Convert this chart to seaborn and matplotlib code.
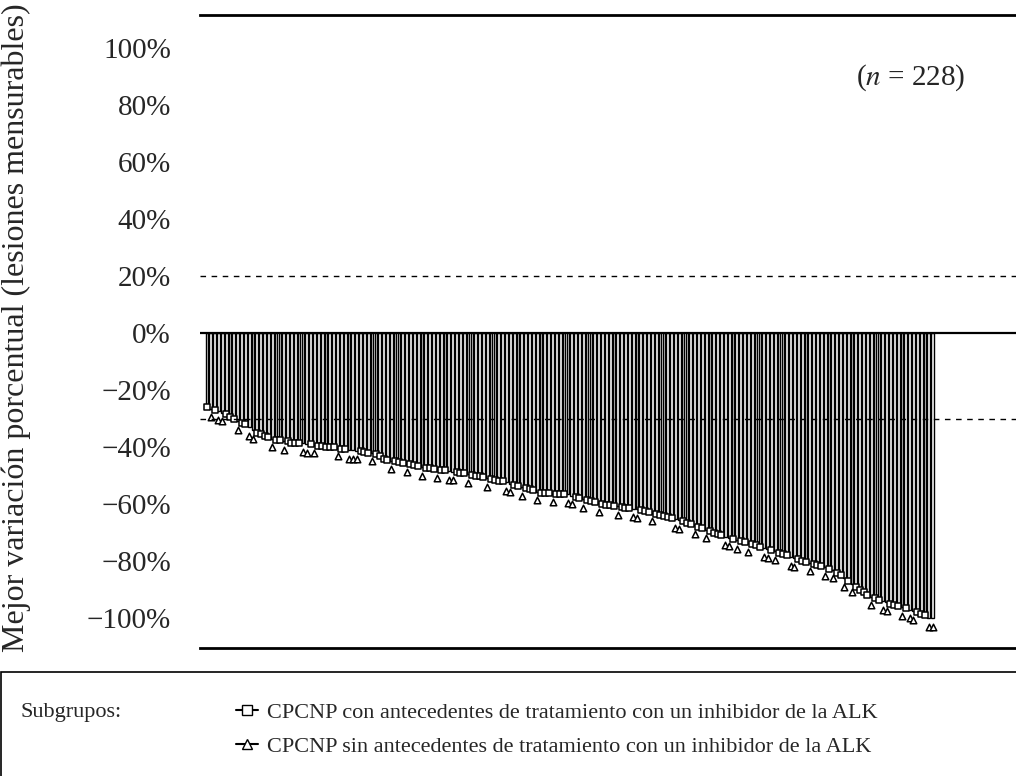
import pandas as pd
import matplotlib.pyplot as plt
import seaborn as sns
from matplotlib.lines import Line2D
from matplotlib.patches import Rectangle

sns.set_theme(style='white')
plt.rcParams['font.family'] = ['Liberation Serif', 'DejaVu Serif']
plt.rcParams['mathtext.fontset'] = 'stix'

# best % change per patient, sorted
best_change = [
    -26, -26.5, -27, -27.5, -28, -28.5, -29.5, -30, -31, -31.5,
    -32, -33, -34, -35, -35.5, -36, -36.5, -37, -37.5, -37.5,
    -38, -38, -38.5, -38.5, -38.5, -38.6, -39, -39, -39.2, -39.5,
    -39.5, -39.8, -40, -40, -40.2, -40.5, -40.8, -41, -41, -41.3,
    -41.5, -41.7, -42, -42, -42.5, -43, -44, -44.5, -44.8, -45,
    -45.2, -45.5, -45.8, -46, -46.3, -46.5, -47, -47.2, -47.4, -47.6,
    -47.8, -48, -48.2, -48.4, -48.6, -48.8, -49, -49.2, -49.5, -49.8,
    -50, -50.3, -50.6, -51, -51.2, -51.5, -51.8, -52, -52.4, -52.8,
    -53.2, -53.6, -54, -54.4, -54.8, -55.2, -55.6, -56, -56, -56.2,
    -56.3, -56.4, -56.5, -56.5, -56.6, -57, -57.4, -57.8, -58.2, -58.6,
    -59, -59.4, -59.7, -60, -60.2, -60.4, -60.6, -60.8, -61, -61.2,
    -61.4, -61.6, -61.8, -62, -62.3, -62.6, -63, -63.4, -63.8, -64.2,
    -64.6, -65, -65.3, -65.6, -66, -66.5, -67, -67.5, -68, -68.5,
    -69, -69.5, -70, -70.5, -71, -71.4, -71.8, -72.2, -72.6, -73,
    -73.4, -73.7, -74, -74.5, -75, -75.4, -75.8, -76.2, -76.6, -77,
    -77.5, -78, -78.6, -79, -79.4, -79.8, -80.2, -80.6, -81, -81.4,
    -81.8, -82.2, -82.6, -83, -84, -85, -86, -87, -88, -89,
    -90, -91, -91.8, -92.5, -93, -93.5, -94, -94.5, -95, -95.4,
    -95.8, -96.2, -96.6, -97, -97.5, -98, -98.5, -99, -100, -100,
]

# c = con antecedentes de inhibidor ALK, s = sin antecedentes
subgroup_codes = (
    "cscsscccsc" "cssccccscc" "sccccsscsc" "ccccsccsss" "cccsccccsc"
    "ccscccsccc" "sccsscccsc" "cccsccccss" "ccscccsccc" "scccssccsc"
    "ccsccccscc" "csscccsccc" "ccsscccscc" "sccccsscsc" "cscccsscsc"
    "ccsscccscc" "cscsccscsc" "cccsccsscc" "cscsscccss"
)

y_ticks = [100, 80, 60, 40, 20, 0, -20, -40, -60, -80, -100]
ref_lines = [20, -30]
group_labels = {
    'c': 'CPCNP con antecedentes de tratamiento con un inhibidor de la ALK',
    's': 'CPCNP sin antecedentes de tratamiento con un inhibidor de la ALK',
}

assert len(subgroup_codes) == len(best_change)

df = pd.DataFrame({
    'patient': range(len(best_change)),
    'change': best_change,
    'group': list(subgroup_codes),
})

fig = plt.figure(figsize=(10.16, 7.76), dpi=100)
ax = fig.add_axes([0.1969, 0.1649, 0.8031, 0.8157])

sns.barplot(data=df, x='patient', y='change', color='white', saturation=1,
            edgecolor='black', linewidth=1.0, width=0.72, ax=ax, zorder=2)

con = df[df['group'] == 'c']
sin = df[df['group'] == 's']
sns.scatterplot(x=con['patient'], y=con['change'], marker='s', s=18,
                facecolor='white', edgecolor='black', linewidth=1.1,
                legend=False, ax=ax, zorder=4)
sns.scatterplot(x=sin['patient'], y=sin['change'] - 3, marker='^', s=22,
                facecolor='white', edgecolor='black', linewidth=1.1,
                legend=False, ax=ax, zorder=4)

ax.axhline(0, color='black', lw=1.6, zorder=3)
for v in ref_lines:
    ax.axhline(v, color='black', lw=1.0, ls=(0, (4, 4)), zorder=5)

ax.set_xlim(-1.8, 210.7)
ax.set_ylim(-110.5, 111.6)
ax.set_xticks([])
ax.set_xlabel('')
ax.set_ylabel('')
ax.set_yticks(y_ticks)
ax.set_yticklabels([f"{v}%".replace('-', '\u2212') for v in y_ticks], fontsize=21)
ax.tick_params(axis='y', length=0, pad=21)
for side in ['left', 'right']:
    ax.spines[side].set_visible(False)
for side in ['top', 'bottom']:
    ax.spines[side].set_linewidth(2.0)
    ax.spines[side].set_color('black')

fig.text(0.016, 0.578, 'Mejor variación porcentual (lesiones mensurables)',
         rotation=90, ha='center', va='center', fontsize=23)
fig.text(0.896, 0.8995, '($n$ = 228)', ha='center', va='center', fontsize=21)

# legend box below the chart
fig.add_artist(Rectangle((0.001, -0.1), 1.2, 0.234, transform=fig.transFigure,
                         fill=False, edgecolor='black', lw=1.2))
fig.text(0.0197, 0.0815, 'Subgrupos:', ha='left', va='center', fontsize=16)
handles = [
    Line2D([0], [0], color='black', lw=1.5, marker='s', markersize=7,
           markerfacecolor='white', markeredgecolor='black'),
    Line2D([0], [0], color='black', lw=1.5, marker='^', markersize=7,
           markerfacecolor='white', markeredgecolor='black'),
]
fig.legend(handles, [group_labels['c'], group_labels['s']], loc='upper left',
           bbox_to_anchor=(0.232, 0.095), frameon=False, fontsize=16,
           handlelength=1.0, handletextpad=0.4, labelspacing=0.6,
           borderpad=0, borderaxespad=0)

fig.savefig('out.png', dpi=100)
